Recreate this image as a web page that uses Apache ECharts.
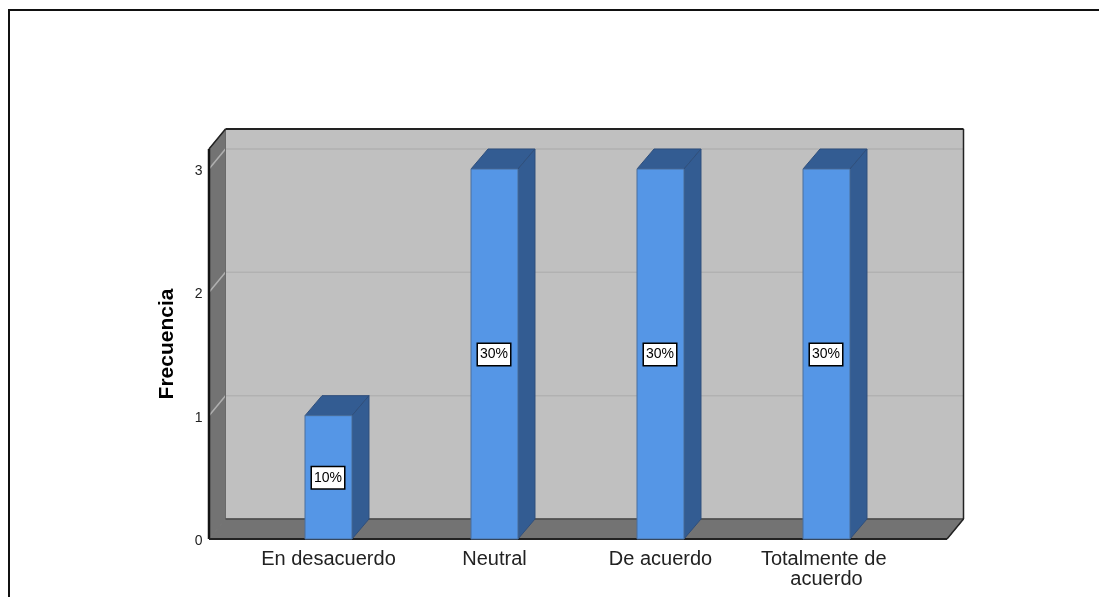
<!DOCTYPE html>
<html><head><meta charset="utf-8">
<style>html,body{margin:0;padding:0;background:#fff}#c{width:1099px;height:597px}</style>
<script src="https://cdn.jsdelivr.net/npm/echarts@6/dist/echarts.min.js"></script>
</head><body><div id="c"></div>
<script>
const categories = ['En desacuerdo', 'Neutral', 'De acuerdo', 'Totalmente de acuerdo'];
const frequencies = [1, 3, 3, 3];
const percentLabels = ['10%', '30%', '30%', '30%'];
const yTicks = [0, 1, 2, 3];
const axisTitle = 'Frecuencia';

const DX = 17, DY = -20, WDX = 16.5, WALL_LEFT = 36.5, WALL_RIGHT = 37.5, WALL_TOP = 3.162;
const FONT = '"Liberation Sans", Arial, sans-serif';

function poly(points, fill, stroke, lw) {
  return { type: 'polygon', shape: { points }, style: { fill, stroke: stroke || fill, lineWidth: lw === undefined ? 1 : lw } };
}
function line(x1, y1, x2, y2, stroke, lw) {
  return { type: 'line', shape: { x1, y1, x2, y2 }, style: { stroke, lineWidth: lw } };
}
function renderWalls(params, api) {
  const cs = params.coordSys;
  const l = cs.x - WALL_LEFT, r = cs.x + cs.width + WALL_RIGHT;
  const y0 = api.coord([0, 0])[1];
  const yT = api.coord([0, WALL_TOP])[1];
  const kids = [
    poly([[l + WDX, yT + DY], [r + WDX, yT + DY], [r + WDX, y0 + DY], [l + WDX, y0 + DY]], '#c0c0c0'),
    poly([[l, yT], [l + WDX, yT + DY], [l + WDX, y0 + DY], [l, y0]], '#737373'),
    poly([[l, y0], [l + WDX, y0 + DY], [r + WDX, y0 + DY], [r, y0]], '#737373')
  ];
  yTicks.slice(1).forEach(t => {
    const y = api.coord([0, t])[1];
    kids.push(line(l + WDX, y + DY, r + WDX, y + DY, '#b1b1b1', 1.5));
    kids.push(line(l, y, l + WDX, y + DY, '#b0b0b0', 1.5));
  });
  kids.push(line(l + WDX, yT + DY, l + WDX, y0 + DY, '#6a6a6a', 1));
  kids.push(line(l + WDX, y0 + DY, r + WDX, y0 + DY, '#4a4a4a', 1.5));
  kids.push(line(l, yT, l, y0, '#141414', 2.5));
  kids.push(line(l, yT, l + WDX, yT + DY, '#222', 1.5));
  kids.push(line(l + WDX, yT + DY, r + WDX, yT + DY, '#222', 2));
  kids.push(line(r + WDX, yT + DY, r + WDX, y0 + DY, '#222', 1.5));
  kids.push(line(r + WDX, y0 + DY, r, y0, '#222', 1.5));
  kids.push(line(l, y0, r, y0, '#222', 2));
  return { type: 'group', children: kids };
}
function renderBar(params, api) {
  const i = api.value(0), v = api.value(1);
  const c = api.coord([i, v]), b = api.coord([i, 0]);
  const w = api.size([1, 0])[0] * 0.283;
  const x0 = c[0] - w / 2, x1 = c[0] + w / 2, yt = c[1], yb = b[1];
  return { type: 'group', children: [
    poly([[x0, yt], [x1, yt], [x1 + DX, yt + DY], [x0 + DX, yt + DY]], '#335c92', '#2f4f7c'),
    poly([[x1, yt], [x1 + DX, yt + DY], [x1 + DX, yb + DY], [x1, yb]], '#335c92', '#2f4f7c'),
    poly([[x0, yt], [x1, yt], [x1, yb], [x0, yb]], '#5596e6', '#4a6f9c'),
    { type: 'text', z2: 10, style: {
        text: percentLabels[params.dataIndex], x: c[0] - 0.5, y: (yt + yb) / 2 + 0.5,
        align: 'center', verticalAlign: 'middle', fill: '#000',
        font: '14px ' + FONT, backgroundColor: '#fff',
        borderColor: '#000', borderWidth: 1.5, padding: [4, 2, 3, 2]
    } }
  ] };
}

const chart = echarts.init(document.getElementById('c'), null, { renderer: 'canvas' });
chart.setOption({
  animation: false,
  backgroundColor: '#fff',
  grid: { left: 245.5, right: 189.5, top: 169, bottom: 58, containLabel: false },
  xAxis: {
    type: 'category', data: categories,
    axisLine: { show: false }, axisTick: { show: false },
    axisLabel: { color: '#222', fontFamily: FONT, fontSize: 20, lineHeight: 20, margin: 10,
      width: 150, overflow: 'break', interval: 0, hideOverlap: false }
  },
  yAxis: {
    type: 'value', min: 0, max: 3, interval: 1, offset: 36,
    name: axisTitle, nameLocation: 'middle', nameGap: 32, nameRotate: 90, nameMoveOverlap: false,
    nameTextStyle: { color: '#000', fontFamily: FONT, fontSize: 21, fontWeight: 'bold', padding: [0, 0, 0, 20] },
    axisLine: { show: false }, axisTick: { show: false }, splitLine: { show: false },
    axisLabel: { color: '#222', fontFamily: FONT, fontSize: 14, margin: 7, verticalAlign: 'top', lineHeight: 4 }
  },
  graphic: [
    { type: 'line', silent: true, shape: { x1: 8, y1: 10, x2: 1099, y2: 10 }, style: { stroke: '#111', lineWidth: 2 } },
    { type: 'line', silent: true, shape: { x1: 9, y1: 10, x2: 9, y2: 597 }, style: { stroke: '#111', lineWidth: 2 } }
  ],
  series: [
    { type: 'custom', silent: true, clip: false, z: 1, renderItem: renderWalls, data: [[0, 0]], encode: { x: 0, y: 1 } },
    { type: 'custom', silent: true, clip: false, z: 2, renderItem: renderBar,
      data: categories.map((c, i) => [i, frequencies[i]]), encode: { x: 0, y: 1 } }
  ]
});
</script></body></html>
